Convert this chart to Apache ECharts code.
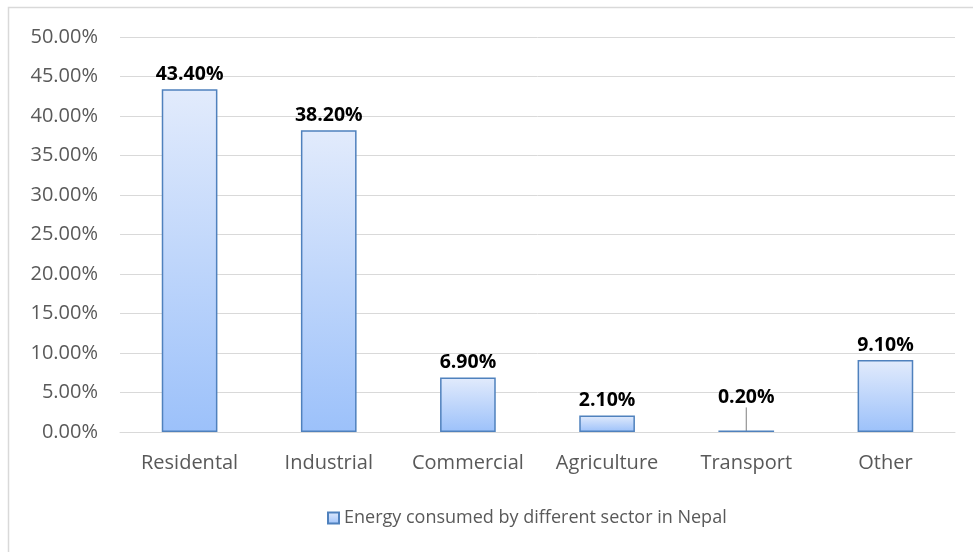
<!DOCTYPE html>
<html><head><meta charset="utf-8">
<script src="https://cdn.jsdelivr.net/npm/echarts@6/dist/echarts.min.js"></script>
<style>html,body{margin:0;padding:0;background:#fff}#c{width:973px;height:552px}</style>
</head><body><div id="c"></div>
<script>
const categories = ["Residental","Industrial","Commercial","Agriculture","Transport","Other"];
const values = [43.4, 38.2, 6.9, 2.1, 0.2, 9.1];
const seriesName = "Energy consumed by different sector in Nepal";

const chart = echarts.init(document.getElementById('c'), null, {renderer:'canvas'});
const grad = new echarts.graphic.LinearGradient(0,0,0,1,[
  {offset:0,color:'#e2ebfc'},{offset:1,color:'#9cc1fa'}]);
const font = '"Open Sans", Lato, sans-serif';
const data = values.map((v,i)=> i===4 ? {value:v, labelLine:{show:true, length2:0, lineStyle:{color:'#7f7f7f',width:1}}} : v);
chart.setOption({
  animation:false,
  graphic:[{type:'rect',shape:{x:8.5,y:7.5,width:980,height:560},style:{fill:'none',stroke:'#d9d9d9',lineWidth:1.5},silent:true}],
  grid:{left:120,right:18,top:37,bottom:120,containLabel:false},
  legend:{bottom:20,left:322,itemWidth:11,itemHeight:11,itemGap:5,
    textStyle:{color:'#595959',fontSize:18,fontFamily:font},
    data:[{name:seriesName,icon:'rect'}]},
  xAxis:{type:'category',data:categories,
    axisLine:{show:true,lineStyle:{color:'#d9d9d9',width:1}},axisTick:{show:false},
    axisLabel:{color:'#595959',fontSize:20,fontFamily:font,margin:21,interval:0,hideOverlap:false}},
  yAxis:{type:'value',min:0,max:50,interval:5,
    axisLine:{show:false},axisTick:{show:false},
    splitLine:{lineStyle:{color:'#d9d9d9',width:1}},
    axisLabel:{color:'#595959',fontSize:20,fontFamily:font,margin:22,formatter:v=>v.toFixed(2)+'%'}},
  series:[{type:'bar',name:seriesName,barWidth:'40%',
    itemStyle:{color:grad,borderColor:'#4f81bd',borderWidth:1.5},
    label:{show:true,position:'top',distance:5,color:'#000',fontWeight:'bold',fontSize:19.5,fontFamily:font,
      formatter:p=>p.value.toFixed(2)+'%'},
    labelLine:{show:false},
    labelLayout:function(params){ if(params.dataIndex===4){return {dy:-18};} return {}; },
    data:data}]
});
</script></body></html>
